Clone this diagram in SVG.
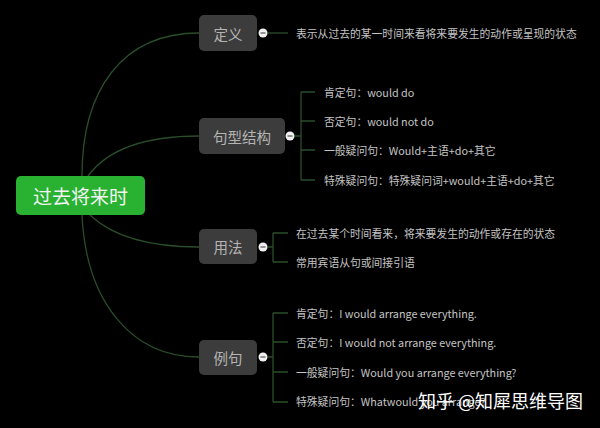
<svg xmlns="http://www.w3.org/2000/svg" width="600" height="428" viewBox="0 0 600 428">
<style>
.bg{fill:#000}
.conn{fill:none;stroke:#2a4d2a;stroke-width:1.3}
.box{fill:#3c3c3c}
.lbl{font-family:"Noto Sans CJK SC","Noto Sans",sans-serif;font-size:14.5px;fill:#b4b4b4;text-anchor:middle;dominant-baseline:central}
.leaf{font-family:"Noto Sans CJK SC","Noto Sans",sans-serif;font-size:10.8px;fill:#c4c4c4;dominant-baseline:central}
.dot{fill:#f0f0f0}
.minus{stroke:#555;stroke-width:1.2}
.root{fill:#29b232}
.rootlbl{font-family:"Noto Sans CJK SC","Noto Sans",sans-serif;font-size:19px;fill:#f2f2f2;text-anchor:middle;dominant-baseline:central}
.wm{font-family:"Noto Sans CJK SC","Noto Sans",sans-serif;font-size:18px;fill:#fff}
</style>
<rect class="bg" x="0" y="0" width="600" height="428"/>
<g id="connectors">
<path class="conn" d="M82,176 C82,90 122,33 199,33"/>
<path class="conn" d="M88,176 C110,146 150,136 199,136"/>
<path class="conn" d="M90,215 C112,236 150,247 199,247"/>
<path class="conn" d="M82,215 C86,300 130,357 199,357"/>
<path class="conn" d="M268,33 H288"/>
<path class="conn" d="M295,136 H301 M301,92 V180 M301,92 H315 M301,121 H315 M301,150 H315 M301,180 H315"/>
<path class="conn" d="M268,247 H273 M273,233 V262 M273,233 H288 M273,262 H288"/>
<path class="conn" d="M268,357 H273 M273,313 V402 M273,313 H288 M273,342 H288 M273,372 H288 M273,402 H288"/>
</g>
<g id="root">
<rect class="root" x="16" y="176" width="129" height="39" rx="5"/>
<text class="rootlbl" x="80.5" y="195.5">过去将来时</text>
</g>
<g id="n-dingyi">
<rect class="box" x="199" y="15" width="58" height="36" rx="5"/>
<text class="lbl" x="228" y="33">定义</text>
<circle class="dot" cx="263" cy="33" r="4.5"/><path class="minus" d="M260.5,33 H265.5"/>
<text class="leaf" x="296" y="33">表示从过去的某一时间来看将来要发生的动作或呈现的状态</text>
</g>
<g id="n-jiegou">
<rect class="box" x="199" y="118" width="86" height="36" rx="5"/>
<text class="lbl" x="242" y="136">句型结构</text>
<circle class="dot" cx="290" cy="136" r="4.5"/><path class="minus" d="M287.5,136 H292.5"/>
<text class="leaf" x="324" y="92">肯定句：would do</text>
<text class="leaf" x="324" y="121">否定句：would not do</text>
<text class="leaf" x="324" y="150">一般疑问句：Would+主语+do+其它</text>
<text class="leaf" x="324" y="180">特殊疑问句：特殊疑问词+would+主语+do+其它</text>
</g>
<g id="n-yongfa">
<rect class="box" x="199" y="229" width="58" height="35" rx="5"/>
<text class="lbl" x="228" y="246.5">用法</text>
<circle class="dot" cx="263" cy="247" r="4.5"/><path class="minus" d="M260.5,247 H265.5"/>
<text class="leaf" x="296" y="233">在过去某个时间看来，将来要发生的动作或存在的状态</text>
<text class="leaf" x="296" y="262">常用宾语从句或间接引语</text>
</g>
<g id="n-liju">
<rect class="box" x="199" y="340" width="58" height="35" rx="5"/>
<text class="lbl" x="228" y="357.5">例句</text>
<circle class="dot" cx="263" cy="357" r="4.5"/><path class="minus" d="M260.5,357 H265.5"/>
<text class="leaf" x="296" y="313">肯定句：I would arrange everything.</text>
<text class="leaf" x="296" y="342">否定句：I would not arrange everything.</text>
<text class="leaf" x="296" y="372">一般疑问句：Would you arrange everything?</text>
<text class="leaf" x="296" y="401">特殊疑问句：Whatwould you arrange?</text>
</g>
<g id="watermark">
<text class="wm" x="418" y="408">知乎 @知犀思维导图</text>
</g>
</svg>
